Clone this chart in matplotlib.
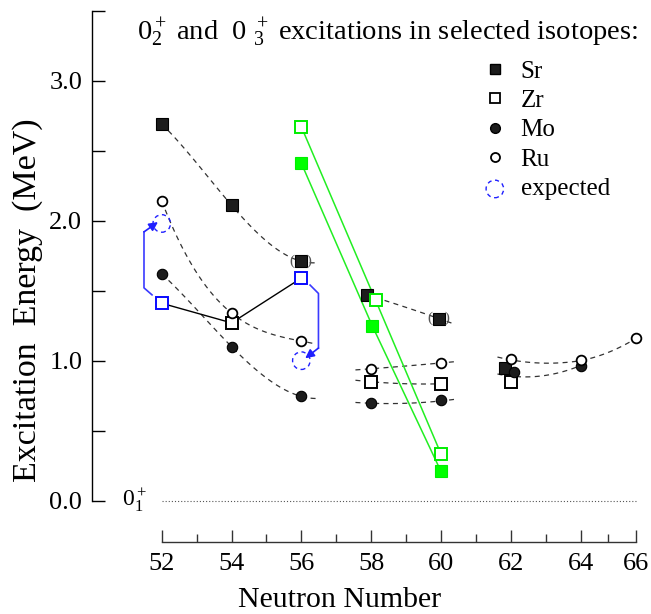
import numpy as np
import matplotlib.pyplot as plt
from matplotlib.lines import Line2D

plt.rcParams['font.family'] = ['Liberation Serif', 'DejaVu Serif']
plt.rcParams['mathtext.fontset'] = 'custom'
plt.rcParams['mathtext.rm'] = 'Liberation Serif'
plt.rcParams['mathtext.it'] = 'Liberation Serif:italic'
plt.rcParams['mathtext.default'] = 'regular'

# 0+ excitation energies (MeV) vs neutron number
sr_n = [52, 54, 56, 57.87, 59.95, 61.84]
sr_e = [2.69, 2.11, 1.71, 1.47, 1.30, 0.95]
sr_tentative = [56, 59.95]          # values shown in brackets

zr_n = [52, 54, 56, 58, 60, 62]
zr_e = [1.41, 1.27, 1.59, 0.85, 0.835, 0.85]
zr_moved = [52, 56]                 # levels drawn in blue

mo_n = [52, 54, 56, 58, 60, 62.1, 64]
mo_e = [1.62, 1.10, 0.745, 0.70, 0.72, 0.92, 0.965]

ru_n = [52, 54, 56, 58, 60, 62, 64, 66]
ru_e = [2.14, 1.34, 1.14, 0.94, 0.98, 1.01, 1.005, 1.16]

exp_n = [52, 56]
exp_e = [1.98, 1.00]

green_open_n = [56, 58.13, 60]
green_open_e = [2.67, 1.43, 0.335]
green_fill_n = [56, 58.03, 60]
green_fill_e = [2.41, 1.25, 0.21]

# dashed trend curves
trends = [
    ([52, 54, 56, 56.45], [2.69, 2.11, 1.71, 1.70], 3),
    ([52, 54, 56, 56.4], [2.14, 1.34, 1.14, 1.12], 3),
    ([52, 54, 56, 56.45], [1.62, 1.10, 0.745, 0.73], 3),
    ([57.87, 59.95, 60.4], [1.47, 1.30, 1.26], 2),
    ([57.55, 58, 59, 60, 60.4], [0.935, 0.94, 0.965, 0.98, 0.995], 2),
    ([57.55, 58, 59, 60], [0.86, 0.85, 0.835, 0.835], 2),
    ([57.55, 58, 59, 60, 60.4], [0.70, 0.70, 0.69, 0.72, 0.72], 2),
    ([61.62, 62, 63, 64, 66], [1.025, 1.01, 0.975, 1.005, 1.16], 2),
    ([61.62, 63, 64], [0.905, 0.895, 0.965], 2),
]

# blue arrows from the Zr levels to the expected positions
arrow_left_n = [51.72, 51.49, 51.49, 51.89]
arrow_left_e = [1.47, 1.52, 1.92, 1.99]
arrow_right_n = [56.25, 56.49, 56.49, 56.11]
arrow_right_e = [1.54, 1.48, 1.09, 1.017]

# neutron axis is drawn slightly compressed between 64 and 66
knots_d = [40, 64, 66, 80]
knots_p = [40, 64, 65.6, 79.6]

fig = plt.figure(figsize=(6.51, 6.14), dpi=100)
ax = fig.add_axes([92 / 651, 72 / 614, 559 / 651, 542 / 614])
ax.set_xscale('function', functions=(lambda x: np.interp(x, knots_d, knots_p),
                                     lambda x: np.interp(x, knots_p, knots_d)))
ax.set_xlim(50, 66.42)
ax.set_ylim(-0.295, 3.576)

dash_col = '#333333'
for tn, te, deg in trends:
    coef = np.polyfit(tn, te, deg)
    xx = np.linspace(min(tn), max(tn), 100)
    ax.plot(xx, np.polyval(coef, xx), color=dash_col, lw=0.9,
            linestyle=(0, (4, 3.5)), zorder=1)

ax.hlines(0, 52, 66, colors='#555555', linestyles=(0, (1, 1.8)), lw=0.8)

# green lines
ax.plot(green_open_n, green_open_e, '-', color='#22ee22', lw=1.1, zorder=2)
ax.plot(green_fill_n, green_fill_e, '-', color='#22ee22', lw=1.1, zorder=2)

# Zr solid connection 52-54-56
ax.plot(zr_n[:3], zr_e[:3], '-', color='black', lw=1.0, zorder=2)

# blue arrows
for an, ae in [(arrow_left_n, arrow_left_e), (arrow_right_n, arrow_right_e)]:
    ax.plot(an[:-1], ae[:-1], '-', color='#3a3aff', lw=1.2, zorder=2)
    ax.annotate('', xy=(an[-1], ae[-1]), xytext=(an[-2], ae[-2]),
                arrowprops=dict(arrowstyle='-|>', color='#2020ff', lw=1.2,
                                mutation_scale=13, shrinkA=0, shrinkB=0),
                zorder=3)

# markers
ax.plot(sr_n, sr_e, 's', ls='none', ms=8, mfc='#1c1c1c', mec='black', mew=0.8,
        zorder=4, clip_on=False)
zr_col = ['#0a0aff' if n in zr_moved else 'black' for n in zr_n]
for n, e, c in zip(zr_n, zr_e, zr_col):
    ax.plot(n, e, 's', ms=8, mfc='white', mec=c, mew=1.4, zorder=4)
ax.plot(mo_n, mo_e, 'o', ls='none', ms=7.5, mfc='#1c1c1c', mec='black', mew=0.8,
        zorder=4)
ax.plot(ru_n, ru_e, 'o', ls='none', ms=7, mfc='white', mec='black', mew=1.3,
        zorder=5, clip_on=False)
ax.plot(green_open_n, green_open_e, 's', ls='none', ms=8, mfc='white',
        mec='#00ee00', mew=1.4, zorder=4)
ax.plot(green_fill_n, green_fill_e, 's', ls='none', ms=8.5, mfc='#00ff00',
        mec='#00ee00', mew=0.8, zorder=4)
exp_h = ax.scatter(exp_n, exp_e, s=160, facecolors='none', edgecolors='#2020ff',
                   linewidths=1.0, linestyles=(0, (3, 2.6)), zorder=3)

for n in sr_tentative:
    ax.text(n, sr_e[sr_n.index(n)], '(   )', fontsize=11, color='#555555',
            ha='center', va='center', zorder=6)

ax.text(50.86, 0, r'$0_1^+$', fontsize=17, ha='left', va='center')

# axes styling
for s in ['top', 'right']:
    ax.spines[s].set_visible(False)
ax.spines['left'].set_bounds(0, 3.5)
ax.spines['bottom'].set_bounds(52, 66)
ax.spines['left'].set_linewidth(1.0)
ax.spines['bottom'].set_linewidth(1.0)
ax.spines['bottom'].set_color('#333333')

ax.set_yticks([0, 1, 2, 3])
ax.set_yticklabels(['0.0', '1.0', '2.0', '3.0'])
ax.set_yticks([0.5, 1.5, 2.5, 3.5], minor=True)
ax.tick_params(axis='y', which='both', direction='in', length=9.5, width=1.0,
               labelsize=19, pad=7)
ax.set_xticks(range(52, 67, 2))
ax.set_xticks(range(53, 66, 2), minor=True)
ax.tick_params(axis='x', which='major', direction='in', length=9, width=1.0,
               labelsize=19, pad=8, color='#333333')
ax.tick_params(axis='x', which='minor', direction='in', length=5.5, width=1.0,
               color='#333333')

fig.text(28 / 651, 1 - 300 / 614, 'Excitation  Energy  (MeV)', rotation=90,
         fontsize=24.5, ha='center', va='center')
fig.text(340 / 651, 1 - 600 / 614, 'Neutron Number', fontsize=21.5,
         ha='center', va='center')
fig.text(137 / 651, 1 - 33 / 614,
         r'$0_2^+$ and  0 $_3^+$ excitations in selected isotopes:',
         fontsize=20.5, ha='left', va='center')

handles = [
    Line2D([], [], ls='none', marker='s', ms=7, mfc='#1c1c1c', mec='black', label='Sr'),
    Line2D([], [], ls='none', marker='s', ms=7, mfc='white', mec='black', mew=1.3, label='Zr'),
    Line2D([], [], ls='none', marker='o', ms=7, mfc='#1c1c1c', mec='black', label='Mo'),
    Line2D([], [], ls='none', marker='o', ms=6.5, mfc='white', mec='black', mew=1.3, label='Ru'),
    exp_h,
]
labels = ['Sr', 'Zr', 'Mo', 'Ru', 'expected']
ax.legend(handles, labels, loc='upper left', bbox_to_anchor=(483 / 651, 1 - 60 / 614),
          bbox_transform=fig.transFigure, frameon=False, fontsize=18,
          handlelength=0.95, handletextpad=0.55, borderpad=0, borderaxespad=0,
          labelspacing=0.28, scatterpoints=1)

fig.savefig('out.png', dpi=100)
